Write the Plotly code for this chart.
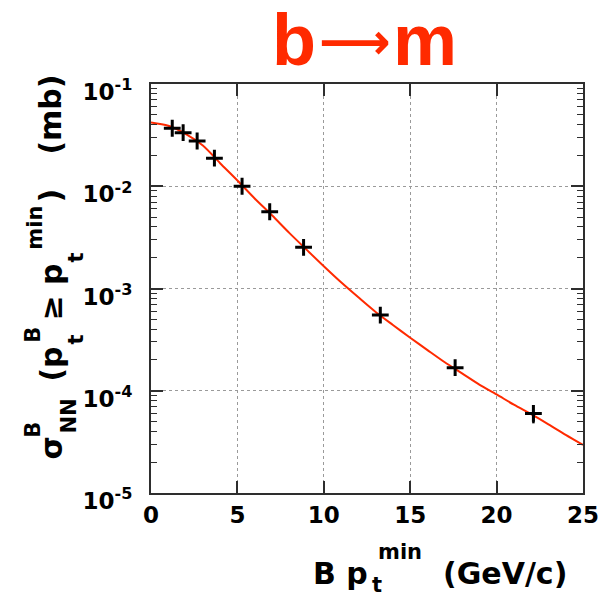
import plotly.graph_objects as go

# Cross section for B mesons above a minimum transverse momentum
pt_min = [1.23, 1.86, 2.67, 3.67, 5.27, 6.87, 8.83, 13.27, 17.6, 22.13]
sigma_mb = [0.0369, 0.0334, 0.0277, 0.0188, 0.0100, 0.00563, 0.00253,
            5.5e-4, 1.68e-4, 6.0e-5]
sigma_err_minus = [0, 0, 0, 0, 0, 0, 0, 0, 0, 1.2e-5]

# Fitted curve
fit_pt = [0, 1, 2, 3, 4, 5, 6, 7, 8, 9, 10, 11, 12, 13, 14, 15, 16, 17, 18,
          19, 20, 21, 22, 23, 24, 25]
fit_sigma = [0.042, 0.039, 0.0325, 0.025, 0.0168, 0.0114, 0.0076, 0.0052,
             0.0035, 0.0024, 0.00165, 0.00115, 0.00082, 0.00059, 0.00044,
             0.00033, 0.00025, 0.00019, 0.000148, 0.000115, 0.000092,
             0.000073, 0.000059, 0.000047, 0.000037, 0.0000295]

x_ticks = [0, 5, 10, 15, 20, 25]
y_exponents = [-5, -4, -3, -2, -1]

W, H = 616, 601
L, R, T, B = 150.5, 33, 84, 108
PW, PH = W - L - R, H - T - B

AXIS_FONT = "DejaVu Sans"
INK = "#2e2e2e"
RED = "#ff2a00"


def px(x, y):
    """Pixel position in the figure -> paper coordinates of the plot area."""
    return (x - L) / PW, 1 - (y - T) / PH


fig = go.Figure()

fig.add_trace(go.Scatter(
    x=fit_pt, y=fit_sigma, mode="lines",
    line=dict(color=RED, width=2, shape="spline", smoothing=0.8),
    hoverinfo="skip", showlegend=False,
))

fig.add_trace(go.Scatter(
    x=pt_min, y=sigma_mb, mode="markers",
    marker=dict(symbol="cross-thin", size=12,
                line=dict(color="black", width=3), color="black"),
    error_y=dict(type="data", symmetric=False,
                 array=[0] * len(sigma_err_minus),
                 arrayminus=sigma_err_minus,
                 color="black", thickness=2.5, width=0),
    showlegend=False,
))

minor_vals = [m * 10 ** e for e in range(-5, -1) for m in range(2, 10)]

fig.update_xaxes(
    range=[0, 25], tickvals=x_ticks, ticktext=[str(v) for v in x_ticks],
    ticks="inside", ticklen=12, tickwidth=1.5, tickcolor=INK,
    showline=True, linecolor=INK, linewidth=2, mirror="ticks",
    showgrid=True, gridcolor="#9a9a9a", griddash="dot", gridwidth=1,
    zeroline=False,
    tickfont=dict(family=AXIS_FONT, size=23, color="black", weight="bold"),
)

fig.update_yaxes(
    type="log", range=[-5, -1],
    tickvals=[10 ** e for e in y_exponents],
    ticktext=["10<sup>%d</sup>" % e for e in y_exponents],
    ticks="inside", ticklen=12, tickwidth=1.5, tickcolor=INK,
    minor=dict(tickvals=minor_vals, ticks="inside", ticklen=6,
               tickwidth=1.2, tickcolor=INK, showgrid=False),
    showline=True, linecolor=INK, linewidth=2, mirror="ticks",
    showgrid=True, gridcolor="#9a9a9a", griddash="dot", gridwidth=1,
    zeroline=False,
    ticklabelstandoff=12, ticklabelshift=8,
    tickfont=dict(family=AXIS_FONT, size=23, color="black", weight="bold"),
)

annotations = []


def label(text, x, y, size, angle=0, color="black", family=AXIS_FONT):
    ax, ay = px(x, y)
    annotations.append(dict(
        text=text, x=ax, y=ay, xref="paper", yref="paper",
        xanchor="center", yanchor="middle", showarrow=False,
        textangle=angle,
        font=dict(family=family, size=size, color=color, weight="bold"),
    ))


# Title: b -> m
label("b", 294, 40, 72, color=RED, family="Liberation Sans")
label("⟶", 355, 42, 50, color=RED, family="DejaVu Sans")
label("m", 425, 40, 72, color=RED, family="Liberation Sans")

# x-axis title: B p_t^min (GeV/c)
label("B p", 340, 573, 30)
label("min", 400, 552, 21)
label("t", 377, 585, 21)
label("(GeV/c)", 505, 573, 30)

# y-axis title: sigma_NN^B (p_t^B >= p_t^min) (mb)
label("σ", 50, 448, 30, angle=-90)
label("B", 32, 430, 21, angle=-90)
label("NN", 68, 416, 21, angle=-90)
label("(p", 50, 364, 30, angle=-90)
label("B", 32, 335, 21, angle=-90)
label("t", 75, 340, 21, angle=-90)
label("≥ p", 50, 292, 30, angle=-90)
label("min", 34, 228, 21, angle=-90)
label("t", 75, 258, 21, angle=-90)
label(")", 50, 196, 30, angle=-90)
label("(mb)", 50, 115, 30, angle=-90)

fig.update_layout(
    width=W, height=H,
    margin=dict(l=L, r=R, t=T, b=B, pad=0),
    paper_bgcolor="white", plot_bgcolor="white",
    annotations=annotations,
    showlegend=False,
)

fig.write_html("out.html")
